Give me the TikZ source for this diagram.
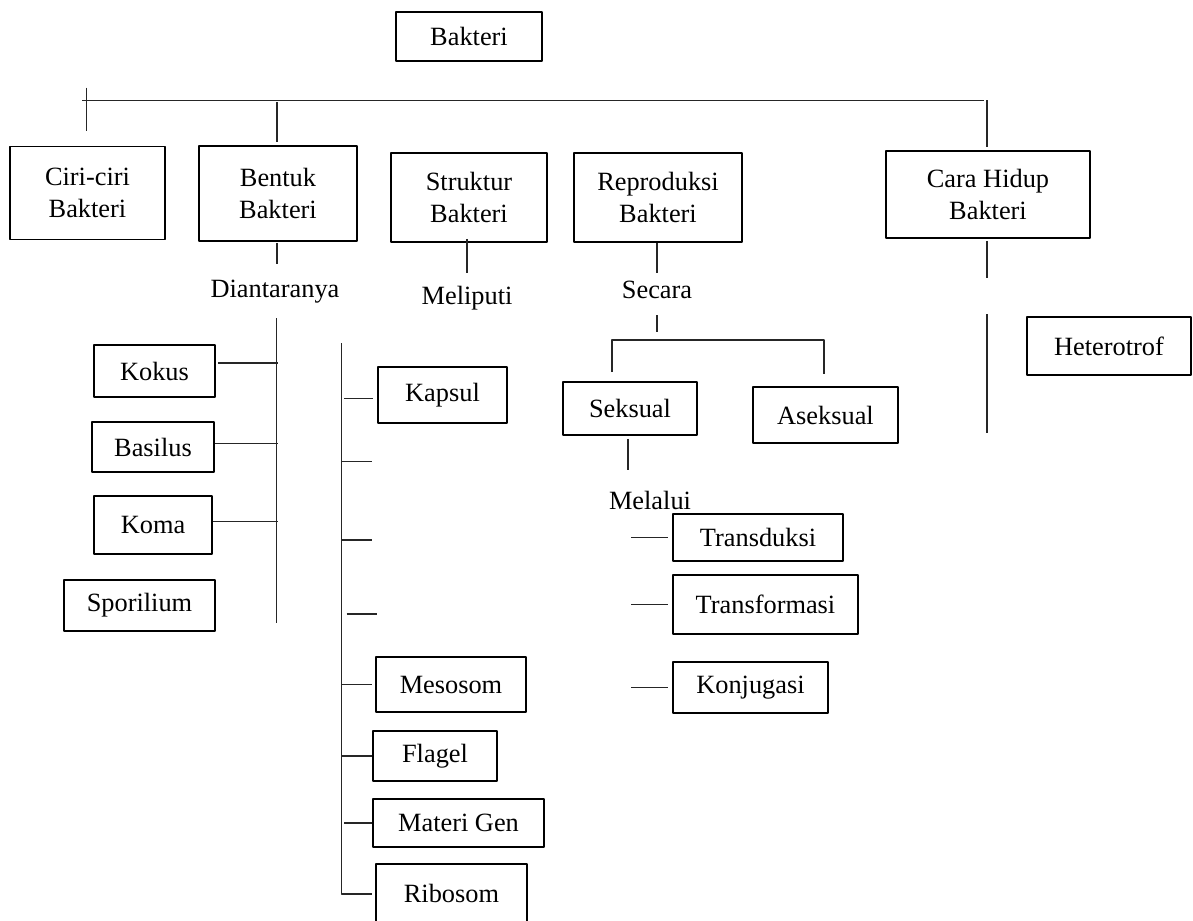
\documentclass[tikz,border=0pt]{standalone}
\usepackage{fontspec}
\setmainfont{Liberation Serif}
\begin{document}
\begin{tikzpicture}[x=0.02cm, y=-0.02cm, line join=round, font=\fontsize{15}{18.5}\selectfont,
	kotak/.style 2 args={draw, line width=1.1pt, align=center, inner sep=0pt,
		minimum width=#1*0.02cm, minimum height=#2*0.02cm},
	garis/.style={line width=0.75pt, black!85}]
	\useasboundingbox (0,0) rectangle (1193,920);
	% Kotak utama
	\node[kotak={146}{49}] (bakteri) at (469,36.5) {Bakteri};
	\node[kotak={155}{93}] (ciri) at (87.5,193) {Ciri-ciri\\Bakteri};
	\node[kotak={158}{95}] (bentuk) at (278,193.5) {Bentuk\\Bakteri};
	\node[kotak={156}{89}] (struktur) at (469,197.5) {Struktur\\Bakteri};
	\node[kotak={168}{89}] (repro) at (658,197.5) {Reproduksi\\Bakteri};
	\node[kotak={204}{87}] (cara) at (988,194.5) {Cara Hidup\\Bakteri};
	% Bentuk
	\node (dian) at (275,292) {Diantaranya};
	\node[kotak={121}{52}] (kokus) at (154.5,371) {Kokus};
	\node[kotak={122}{50}] (basilus) at (153,447) {Basilus};
	\node[kotak={118}{58}] (koma) at (153,525) {Koma};
	\node[kotak={151}{51}] (spor) at (139.5,605.5) {Sporilium};
	% Struktur
	\node (meli) at (467,298) {Meliputi};
	\node[kotak={129}{56}] (kapsul) at (442.5,395) {Kapsul};
	\node[kotak={150}{55}] (mesosom) at (451,684.5) {Mesosom};
	\node[kotak={124}{50}] (flagel) at (435,756) {Flagel};
	\node[kotak={171}{48}] (materi) at (458.5,823) {Materi Gen};
	\node[kotak={151}{58}] (ribosom) at (451.5,893) {Ribosom};
	% Reproduksi
	\node (secara) at (657,290) {Secara};
	\node[kotak={134}{53}] (seksual) at (630,408.5) {Seksual};
	\node[kotak={145}{56}] (aseksual) at (825.5,415) {Aseksual};
	\node (melalui) at (650,500) {Melalui};
	\node[kotak={170}{47}] (transduksi) at (758,537.5) {Transduksi};
	\node[kotak={185}{59}] (transformasi) at (765.5,604.5) {Transformasi};
	\node[kotak={155}{51}] (konjugasi) at (750.5,687.5) {Konjugasi};
	% Cara hidup
	\node[kotak={164}{58}] (hetero) at (1109,346) {Heterotrof};
	% Garis cabang atas
	\coordinate (barL) at (82,100.7);
	\coordinate (barR) at (984,100.7);
	\draw[garis] (barL) -- (barR);
	\draw[garis] ([shift={(-1,-58)}]ciri.north) -- ([shift={(-1,-15)}]ciri.north);
	\draw[garis] ([shift={(-1,-43)}]bentuk.north) -- ([shift={(-1,-3)}]bentuk.north);
	\draw[garis] ([shift={(-1,-50)}]cara.north) -- ([shift={(-1,-3)}]cara.north);
	\draw[garis] (bentuk.south) ++(-1,1) -- ++(0,21);
	\draw[garis] (struktur.south) ++(-2,-4) -- ++(0,34);
	\draw[garis] (repro.south) ++(-1,0) -- ++(0,30);
	\draw[garis] (cara.south) ++(-1,2) -- ++(0,37);
	% Bentuk bakteri
	\coordinate (dtop) at (276.7,318);
	\coordinate (dbot) at (276.7,622.7);
	\draw[garis] (dtop) -- (dbot);
	\draw[garis] ([shift={(2,-8)}]kokus.east) -- ++(60,0);
	\draw[garis] ([shift={(0,-3.7)}]basilus.east) -- ++(62.7,0);
	\draw[garis] ([shift={(0,-3.3)}]koma.east) -- ++(64.7,0);
	% Struktur bakteri
	\coordinate (stop) at (341.7,343);
	\coordinate (sbot) at (341.7,894);
	\draw[garis] (stop) -- (sbot) -- ++(30,0);
	\draw[garis] (kapsul.west) ++(-33,3.3) -- ++(29,0);
	\foreach \y in {461.7,540}
		\draw[garis] (stop |- 0,\y) -- ++(30,0);
	\draw[garis] (stop |- 0,614) ++(5,0) -- ++(30,0);
	\foreach \n in {mesosom,flagel}
		\draw[garis] (sbot |- \n.west) -- ++(30,0);
	\draw[garis] (sbot |- materi.west) ++(2.6,0) -- ++(27.4,0);
	% Reproduksi bakteri
	\coordinate (secA) at (657,315);
	\coordinate (secB) at (657,332);
	\draw[garis] (secA) -- (secB);
	\coordinate (brL) at (612,372);
	\coordinate (brR) at (824,374);
	\draw[garis] (brL) -- ++(0,-32) -| (brR);
	\draw[garis] (seksual.south) ++(-2,3) -- ++(0,31);
	\foreach \n in {transduksi,transformasi,konjugasi}
		\draw[garis] (\n.west) ++(-41,0) -- ++(37,0);
	% Cara hidup bakteri
	\coordinate (cA) at (987,314);
	\coordinate (cB) at (987,433);
	\draw[garis] (cA) -- (cB);
\end{tikzpicture}
\end{document}
